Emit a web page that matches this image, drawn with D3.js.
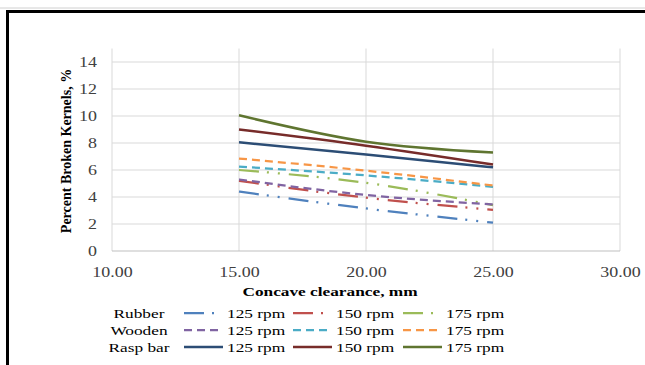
<!DOCTYPE html>
<html><head><meta charset="utf-8">
<script src="https://cdn.jsdelivr.net/npm/d3@7"></script>
<style>html,body{margin:0;padding:0;background:#fff;}svg{display:block;}</style>
</head><body>
<svg id="chart" width="645" height="365"></svg>
<script>
const xValues = [15, 20, 25];
const rubber125 = [4.4, 3.15, 2.1];
const rubber150 = [5.2, 3.95, 3.05];
const rubber175 = [6.0, 5.05, 3.4];
const wooden125 = [5.3, 4.15, 3.45];
const wooden150 = [6.25, 5.6, 4.75];
const wooden175 = [6.85, 5.95, 4.85];
const rasp125 = [8.05, 7.15, 6.2];
const rasp150 = [9.0, 7.8, 6.4];
const rasp175 = [10.05, 8.1, 7.3];
const xTicks = [10, 15, 20, 25, 30];
const yTicks = [0, 2, 4, 6, 8, 10, 12, 14];
const groupNames = ["Rubber", "Wooden", "Rasp bar"];
const speedNames = ["125 rpm", "150 rpm", "175 rpm"];

const series = [
  {g:0, s:0, v:rubber125, c:"#4F81BD"},
  {g:0, s:1, v:rubber150, c:"#C0504D"},
  {g:0, s:2, v:rubber175, c:"#9BBB59"},
  {g:1, s:0, v:wooden125, c:"#8064A2"},
  {g:1, s:1, v:wooden150, c:"#4BACC6"},
  {g:1, s:2, v:wooden175, c:"#F79646"},
  {g:2, s:0, v:rasp125, c:"#2C4D75"},
  {g:2, s:1, v:rasp150, c:"#772C2A"},
  {g:2, s:2, v:rasp175, c:"#5F7530"}
];
const dashes = ["20,8,2,9,2,9", "8,5", null];
const widths = [2.25, 2.25, 2.5];

const svg = d3.select("#chart");
const font = "'Liberation Serif','Times New Roman',serif";
const stretch = 1.28;
function stretchText(sel){
  sel.each(function(){
    const w = this.getComputedTextLength();
    d3.select(this).attr("textLength", w*stretch).attr("lengthAdjust","spacingAndGlyphs");
  });
}

// frame
svg.append("line").attr("x1",0).attr("x2",645).attr("y1",8).attr("y2",8).attr("stroke","#d0d0d0").attr("stroke-width",1);
svg.append("rect").attr("x",7.5).attr("y",11.5).attr("width",700).attr("height",400)
  .attr("fill","none").attr("stroke","#000").attr("stroke-width",3);

const x = d3.scaleLinear().domain([10,30]).range([112,620]);
const y = d3.scaleLinear().domain([0,15]).range([251,48.5]);

// gridlines
const grid = svg.append("g");
grid.selectAll("line.h").data(yTicks.filter(d=>d>0)).enter().append("line")
  .attr("x1",x(10)).attr("x2",x(30)).attr("y1",d=>y(d)).attr("y2",d=>y(d))
  .attr("stroke","#d9d9d9").attr("stroke-width",1);
grid.selectAll("line.v").data(xTicks).enter().append("line")
  .attr("x1",d=>x(d)).attr("x2",d=>x(d)).attr("y1",y(15)).attr("y2",y(0))
  .attr("stroke","#d9d9d9").attr("stroke-width",1);
svg.append("line").attr("x1",x(10)).attr("x2",x(30)).attr("y1",y(0)).attr("y2",y(0))
  .attr("stroke","#bfbfbf").attr("stroke-width",1);

// axes
const xAxis = svg.append("g").attr("transform",`translate(0,${y(0)})`)
  .call(d3.axisBottom(x).tickValues(xTicks).tickFormat(d3.format(".2f")).tickSize(0).tickPadding(16));
xAxis.select(".domain").remove();
xAxis.selectAll("text").attr("font-family",font).attr("font-size",14).attr("fill","#404040").call(stretchText);

const yAxis = svg.append("g").attr("transform",`translate(${x(10)},0)`)
  .call(d3.axisLeft(y).tickValues(yTicks).tickFormat(d3.format("d")).tickSize(0).tickPadding(15));
yAxis.select(".domain").remove();
yAxis.selectAll("text").attr("font-family",font).attr("font-size",14).attr("fill","#404040")
  .attr("text-anchor","end").call(stretchText);

// titles
svg.append("text").attr("x",330).attr("y",296).attr("text-anchor","middle")
  .attr("font-family",font).attr("font-size",13.5).attr("font-weight","bold").attr("fill","#000")
  .text("Concave clearance, mm").call(stretchText);
svg.append("text").attr("transform","translate(71,151) rotate(-90)").attr("text-anchor","middle")
  .attr("font-family",font).attr("font-size",14).attr("font-weight","bold").attr("fill","#000")
  .text("Percent Broken Kernels, %");

// lines
const line = d3.line().x((d,i)=>x(xValues[i])).y(d=>y(d)).curve(d3.curveMonotoneX);
svg.append("g").selectAll("path").data(series).enter().append("path")
  .attr("d",d=>line(d.v)).attr("fill","none").attr("stroke",d=>d.c)
  .attr("stroke-width",d=>widths[d.g]).attr("stroke-dasharray",d=>dashes[d.g]);

// legend
const rowY = [313, 330, 347];
const colLineX = [184, 293, 403];
const leg = svg.append("g");
groupNames.forEach((g,gi)=>{
  leg.append("text").attr("x",139).attr("y",rowY[gi]+4.5).attr("text-anchor","middle")
    .attr("font-family",font).attr("font-size",13.5).attr("fill","#000").text(g).call(stretchText);
});
series.forEach(d=>{
  const ly = rowY[d.g];
  leg.append("line").attr("x1",colLineX[d.s]).attr("x2",colLineX[d.s]+39).attr("y1",ly).attr("y2",ly)
    .attr("stroke",d.c).attr("stroke-width",widths[d.g]).attr("stroke-dasharray",dashes[d.g]);
  leg.append("text").attr("x",colLineX[d.s]+43).attr("y",ly+4.5)
    .attr("font-family",font).attr("font-size",13.5).attr("fill","#000").text(speedNames[d.s]).call(stretchText);
});
</script>
</body></html>
